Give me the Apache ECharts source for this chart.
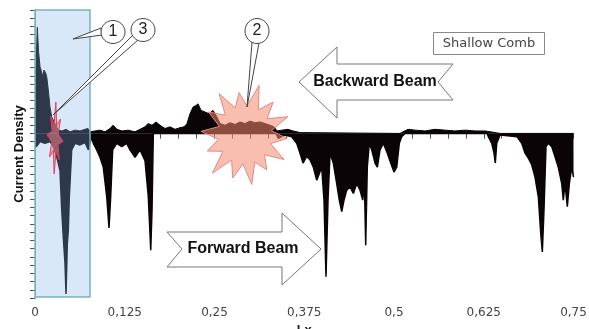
<!DOCTYPE html>
<html><head><meta charset="utf-8">
<script src="https://cdn.jsdelivr.net/npm/echarts@6/dist/echarts.min.js"></script>
<style>html,body{margin:0;padding:0;background:#fff}#c{width:589px;height:329px}</style>
</head><body><div id="c"></div>
<script>
const xTickLabels = ['0','0,125','0,25','0,375','0,5','0,625','0,75'];
const upperCurrent = [
[0,0],[0.0014,8],[0.0032,12.9],[0.0049,10],[0.0070,8.1],[0.0091,7.5],[0.0107,6.9],[0.0125,7.7],[0.0146,7.4],[0.0163,6.9],
[0.0185,5.3],[0.0209,3.2],[0.0233,2.0],[0.0279,1.2],[0.0325,0.4],[0.0376,0.3],[0.0432,0.5],[0.0488,0.2],[0.0557,0.4],[0.0627,0.3],
[0.0697,0.5],[0.0738,0.6],[0.0766,0.2],[0.0836,0.3],[0.0905,0.4],[0.0975,0.2],[0.1045,0.6],[0.1087,1.0],[0.1142,0.5],[0.1212,0.3],
[0.1296,0.4],[0.1393,0.2],[0.1463,0.5],[0.1532,0.8],[0.1574,1.2],[0.1630,1.0],[0.1686,1.4],[0.1741,1.0],[0.1811,0.6],[0.1881,0.8],
[0.1950,0.5],[0.2020,0.7],[0.2076,0.8],[0.2117,1.2],[0.2159,2.4],[0.2201,3.2],[0.2243,3.4],[0.2271,3.6],[0.2312,2.8],[0.2368,2.6],
[0.2424,2.4],[0.2480,2.8],[0.2535,2.0],[0.2577,1.2],[0.2647,1.0],[0.2716,1.3],[0.2786,1.1],[0.2856,1.4],[0.2925,1.2],[0.2995,1.5],
[0.3064,1.3],[0.3134,1.4],[0.3204,1.2],[0.3273,1.0],[0.3329,0.8],[0.3371,0.3],[0.3441,0.4],[0.3524,0.5],[0.3594,0.3],[0.3691,0.1],
[0.3705,0],[0.5084,0],[0.5126,0.2],[0.5196,0.5],[0.5293,0.4],[0.5432,0.3],[0.5571,0.5],[0.5711,0.4],[0.5850,0.3],[0.5989,0.4],
[0.6129,0.3],[0.6268,0.3],[0.6407,0.1],[0.6477,0],[0.75,0]
];
const lowerCurrent = [
[0,-1.7],[0.0028,-1.5],[0.0070,-1.0],[0.0139,-1.2],[0.0209,-1.0],[0.0251,-1.5],[0.0302,-2.8],[0.0348,-4.5],[0.0372,-9.3],[0.0394,-12.6],
[0.0418,-15.8],[0.0432,-19.5],[0.0450,-13.4],[0.0464,-11.8],[0.0478,-7.7],[0.0511,-2.0],[0.0557,-1.2],[0.0627,-1.4],[0.0697,-1.1],[0.0743,-2.0],
[0.0790,-0.4],[0.0812,-1.2],[0.0859,-2.0],[0.0905,-2.9],[0.0951,-4.1],[0.0999,-7.7],[0.1031,-11.5],[0.1054,-7.7],[0.1082,-2.0],[0.1138,-1.2],
[0.1208,-1.6],[0.1277,-1.2],[0.1323,-2.0],[0.1393,-2.9],[0.1463,-2.0],[0.1532,-3.3],[0.1578,-7.7],[0.1612,-14.2],[0.1630,-9.3],[0.1648,0],
[0.3357,0],[0.3389,-0.6],[0.3482,-0.2],[0.3575,-0.4],[0.3645,-1.2],[0.3691,-2.4],[0.3733,-3.6],[0.3784,-2.8],[0.3830,-3.2],[0.3876,-4.1],
[0.3924,-5.7],[0.3946,-5.2],[0.3993,-4.1],[0.4025,-8.1],[0.4053,-17.4],[0.4081,-8.1],[0.4109,-2.4],[0.4155,-3.6],[0.4202,-6.1],[0.4238,-8.1],
[0.4272,-9.5],[0.4304,-8.1],[0.4341,-6.9],[0.4387,-6.5],[0.4434,-7.3],[0.4481,-6.1],[0.4527,-6.9],[0.4565,-8.1],[0.4587,-5.7],[0.4606,-13.6],
[0.4628,-4.1],[0.4656,-1.2],[0.4690,-2.0],[0.4736,-3.6],[0.4768,-4.1],[0.4805,-2.0],[0.4851,-1.2],[0.4907,-2.4],[0.4954,-3.6],[0.5000,-4.7],
[0.5038,-4.1],[0.5074,-1.2],[0.5107,-0.4],[0.5153,0],[0.6296,0],[0.6314,-0.4],[0.6361,-1.2],[0.6393,-2.4],[0.6411,-3.6],[0.6431,-1.2],
[0.6477,-0.2],[0.6616,-0.3],[0.6713,-0.4],[0.6779,-1.2],[0.6825,-2.4],[0.6871,-3.0],[0.6918,-3.8],[0.6964,-5.3],[0.7010,-7.7],[0.7044,-12.2],
[0.7066,-14.4],[0.7089,-9.3],[0.7117,-1.6],[0.7149,-1.2],[0.7196,-1.6],[0.7242,-2.8],[0.7288,-4.1],[0.7336,-6.1],[0.7358,-8.1],[0.7382,-6.1],
[0.7414,-8.9],[0.7442,-6.1],[0.7475,-4.1],[0.75,-5.3]
];
const highlightRange = [0, 0.0766];

function star(cx, cy, n, outer, inner, sx, sy, start) {
  const pts = [];
  for (let i = 0; i < n; i++) {
    const a = start + i * 2 * Math.PI / n;
    const ro = outer[i % outer.length];
    pts.push([cx + Math.sin(a) * ro * sx, cy - Math.cos(a) * ro * sy]);
    const b = a + Math.PI / n;
    pts.push([cx + Math.sin(b) * inner * sx, cy - Math.cos(b) * inner * sy]);
  }
  return pts;
}
function txt(t, x, y, font, fill, z) {
  return {type:'text', z: z || 120, style:{text:t, x:x, y:y, font:font, fill:fill,
    textAlign:'center', textVerticalAlign:'middle', align:'center', verticalAlign:'middle'}};
}

const chart = echarts.init(document.getElementById('c'), null, {renderer:'canvas'});
const tickStyle = {color:'#555'};
chart.setOption({
  animation:false,
  backgroundColor:'#fff',
  grid:{left:35, right:15.5, top:10, bottom:31, containLabel:false, outerBoundsMode:'none'},
  xAxis:[{
    type:'value', min:0, max:0.75, interval:0.125, position:'bottom',
    name:'Lx', nameLocation:'middle', nameGap:25,
    nameTextStyle:{fontFamily:'Liberation Sans', fontWeight:'bold', fontSize:13, color:'#222'},
    axisLine:{show:true, lineStyle:{color:'#555'}},
    axisTick:{show:true, inside:false, length:5, lineStyle:tickStyle},
    minorTick:{show:true, splitNumber:5, length:5, lineStyle:tickStyle},
    splitLine:{show:false},
    axisLabel:{show:true, margin:9, fontFamily:'DejaVu Sans', fontSize:12, color:'#444',
      formatter:function(v){return xTickLabels[Math.round(v/0.125)];}}
  },{
    type:'value', min:0, max:0.75, interval:0.125, position:'top',
    axisLine:{show:true, lineStyle:{color:'#999'}},
    axisTick:{show:true, inside:true, length:5, lineStyle:tickStyle},
    minorTick:{show:true, splitNumber:5, length:5, lineStyle:tickStyle},
    splitLine:{show:false}, axisLabel:{show:false}
  }],
  yAxis:[{
    type:'value', min:-20, max:15, interval:1, position:'left',
    name:'Current Density', nameLocation:'middle', nameGap:9,
    nameTextStyle:{fontFamily:'Liberation Sans', fontWeight:'bold', fontSize:13, color:'#111'},
    axisLine:{show:true, lineStyle:{color:'#555'}},
    axisTick:{show:true, inside:false, length:5, lineStyle:tickStyle},
    splitLine:{show:false}, axisLabel:{show:false}
  },{
    type:'value', min:-20, max:15, interval:1, position:'right',
    axisLine:{show:true, lineStyle:{color:'#999'}},
    axisTick:{show:true, inside:true, length:5, lineStyle:tickStyle},
    splitLine:{show:false}, axisLabel:{show:false}
  }],
  series:[
    {type:'line', data:upperCurrent, showSymbol:false, symbol:'none', z:2,
     lineStyle:{color:'#0a0406', width:1}, areaStyle:{color:'#0a0406', opacity:1}},
    {type:'line', data:lowerCurrent, showSymbol:false, symbol:'none', z:2,
     lineStyle:{color:'#0a0406', width:1.5}, areaStyle:{color:'#0a0406', opacity:1}}
  ]
});

const pTop = chart.convertToPixel({xAxisIndex:0, yAxisIndex:0}, [highlightRange[0], 15]);
const pBot = chart.convertToPixel({xAxisIndex:0, yAxisIndex:0}, [highlightRange[1], -20]);

chart.setOption({
  graphic:[
    {type:'rect', z:50, shape:{x:pTop[0], y:pTop[1], width:pBot[0]-pTop[0], height:pBot[1]-pTop[1]-1},
     style:{fill:'rgba(130,180,235,0.3)', stroke:'#78b4bc', lineWidth:1.5}},
    {type:'polygon', z:100, shape:{points:star(245,135,14,[52,45,50,46,49,42,50,45,52,44,48,46,50,43],29,0.92,1.0,0.3)},
     style:{fill:'rgba(246,137,110,0.55)', stroke:'#e08a84', lineWidth:1}},
    {type:'polygon', z:100, shape:{points:star(55,138,8,[36,30,34,28],14,0.24,1.0,0.1)},
     style:{fill:'rgba(240,130,140,0.55)', stroke:'#e8385a', lineWidth:1}},
    {type:'polygon', z:105, shape:{points:[[73,39],[101,28],[102,35]]}, style:{fill:'#fff', stroke:'#444', lineWidth:1}},
    {type:'polygon', z:105, shape:{points:[[53,115],[133,35],[138,40]]}, style:{fill:'#fff', stroke:'#444', lineWidth:1}},
    {type:'polygon', z:105, shape:{points:[[247,107],[252,42],[259,43]]}, style:{fill:'#fff', stroke:'#444', lineWidth:1}},
    {type:'ellipse', z:110, shape:{cx:113, cy:32, rx:12, ry:11.5}, style:{fill:'#fff', stroke:'#444', lineWidth:1}},
    {type:'ellipse', z:111, shape:{cx:143, cy:30, rx:12, ry:11.5}, style:{fill:'#fff', stroke:'#444', lineWidth:1}},
    {type:'ellipse', z:110, shape:{cx:257, cy:31, rx:12, ry:12.5}, style:{fill:'#fff', stroke:'#444', lineWidth:1}},
    txt('1',113,32,'16px Liberation Sans','#222',115),
    txt('3',143,30,'16px Liberation Sans','#222',115),
    txt('2',257,31,'16px Liberation Sans','#222',115),
    {type:'polygon', z:100, shape:{points:[[299,82],[337,47],[337,64],[453,64],[438,82],[453,100],[337,100],[337,118]]},
     style:{fill:'#fff', stroke:'#777', lineWidth:1}},
    txt('Backward Beam',375,82,'bold 16px Liberation Sans','#111'),
    {type:'polygon', z:100, shape:{points:[[167,232],[282,232],[282,213],[321,249],[282,285],[282,267],[167,267],[182,249]]},
     style:{fill:'#fff', stroke:'#777', lineWidth:1}},
    txt('Forward Beam',243,249,'bold 16px Liberation Sans','#111'),
    {type:'rect', z:100, shape:{x:433.5, y:32.5, width:111, height:22}, style:{fill:'#fff', stroke:'#888', lineWidth:1}},
    txt('Shallow Comb',489,44,'13px DejaVu Sans','#444')
  ]
});
</script></body></html>
